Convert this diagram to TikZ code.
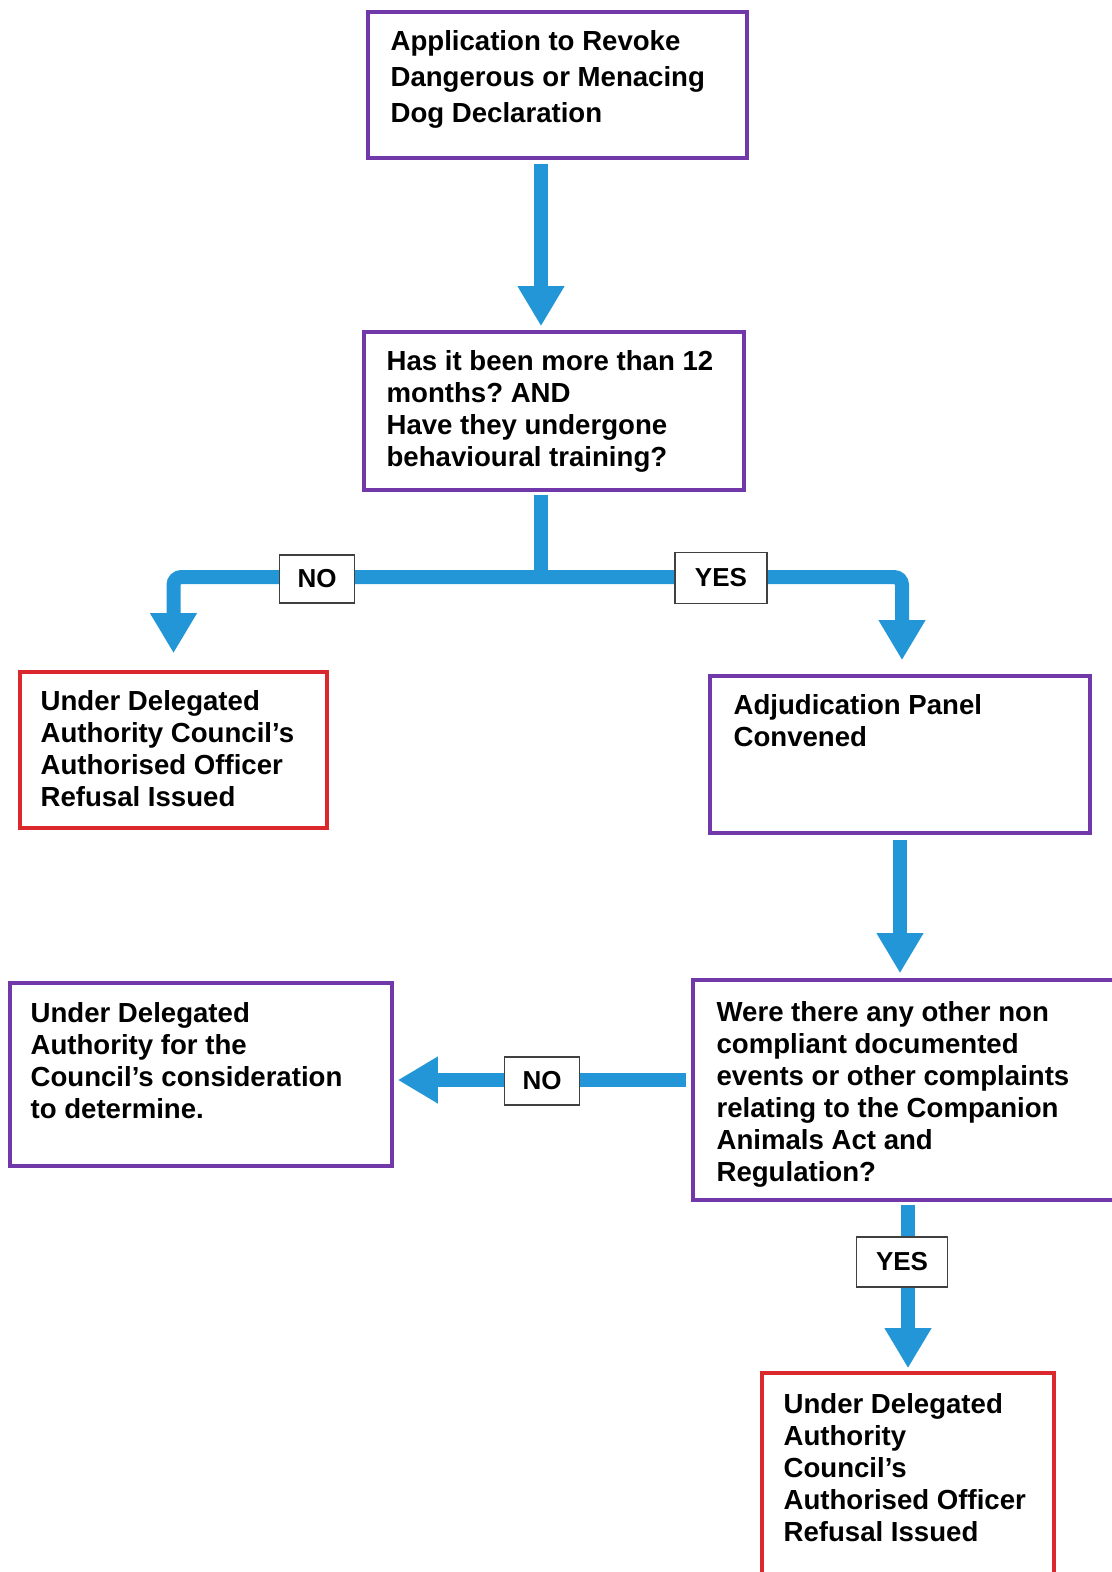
\documentclass[tikz,border=0pt]{standalone}
\usepackage{fontspec}
\setmainfont{Liberation Sans}
\frenchspacing
\usetikzlibrary{arrows.meta,positioning}
\definecolor{boxpurple}{RGB}{112,56,168}
\definecolor{boxred}{RGB}{218,40,45}
\definecolor{flowblue}{RGB}{34,150,214}

\begin{document}
\begin{tikzpicture}[x=0.5pt,y=-0.5pt,
  box/.style={draw=boxpurple,line width=1.8pt,inner sep=0pt},
  redbox/.style={box,draw=boxred},
  txt/.style={anchor=north west,align=left,inner sep=0pt,font=\bfseries\fontsize{13.8}{16}\selectfont},
  tag/.style={draw=black!75,line width=0.6pt,fill=white,inner sep=0pt,font=\bfseries\fontsize{13}{16}\selectfont},
  pipe/.style={draw=flowblue,line width=7pt},
  flow/.style={pipe,-{Triangle[width=22pt,length=20pt]}}]

\useasboundingbox (0,0) rectangle (1112,1572);
\clip (0,0) rectangle (1112,1572);

% boxes
\node[box,minimum width=189.5pt,minimum height=73pt] (b1) at (557.5,85) {};
\node[box,minimum width=190pt,minimum height=79pt] (b2) at (554,411) {};
\node[redbox,minimum width=153.5pt,minimum height=78pt] (b3) at (173.5,750) {};
\node[box,minimum width=190pt,minimum height=78.5pt] (b4) at (900,754.5) {};
\node[box,minimum width=218.5pt,minimum height=110pt] (b5) at (911.5,1090) {};
\node[box,minimum width=191pt,minimum height=91.5pt] (b6) at (201,1074.5) {};
\node[redbox,minimum width=146pt,minimum height=108.5pt] (b7) at (908,1481.5) {};

% texts
\node[txt,font=\bfseries\fontsize{13.8}{18}\selectfont] (t1) at ([shift={(24,20)}]b1.north west)
  {Application to Revoke\\Dangerous or Menacing\\Dog Declaration};
\node[txt] (t2) at ([shift={(24,20)}]b2.north west)
  {Has it been more than 12\\months? AND\\Have they undergone\\behavioural training?};
\node[txt] (t3) at ([shift={(22,20)}]b3.north west)
  {Under Delegated\\Authority Council’s\\Authorised Officer\\Refusal Issued};
\node[txt] (t4) at ([shift={(25,20)}]b4.north west)
  {Adjudication Panel\\Convened};
\node[txt] (t5) at ([shift={(25,23)}]b5.north west)
  {Were there any other non\\compliant documented\\events or other complaints\\relating to the Companion\\Animals Act and\\Regulation?};
\node[txt] (t6) at ([shift={(22,21)}]b6.north west)
  {Under Delegated\\Authority for the\\Council’s consideration\\to determine.};
\node[txt] (t7) at ([shift={(23,22)}]b7.north west)
  {Under Delegated\\Authority\\Council’s\\Authorised Officer\\Refusal Issued};

\coordinate (j) at (541,577);

% connectors
\draw[flow,shorten <=2pt,shorten >=2pt] (b1.south -| j) -- (b2.north -| j);
\draw[pipe,shorten <=1.5pt] (b2.south -| j) -- (j);
\draw[flow,rounded corners=4pt,shorten >=8.5pt] (j) -| (b3.north);
\draw[flow,rounded corners=4pt,shorten >=7pt] (j) -| ([xshift=1pt]b4.north);
\draw[flow,shorten <=2.5pt,shorten >=2.5pt] (b4.south) -- (b5.north -| b4.south);
\draw[flow,shorten <=2.5pt,shorten >=2pt] ([yshift=5pt]b5.west) -- ([yshift=5pt]b5.west -| b6.east);
\draw[flow,shorten <=1.5pt,shorten >=1.5pt] (b5.south -| b7.north) -- (b7.north);

% labels
\node[tag,minimum width=37.5pt,minimum height=24pt] (no1) at (317,579) {NO};
\node[tag,minimum width=46pt,minimum height=25.5pt] (yes1) at (721,578) {YES};
\node[tag,minimum width=37.5pt,minimum height=24pt] (no2) at (542,1081) {NO};
\node[tag,minimum width=45.5pt,minimum height=25pt] (yes2) at (902,1262) {YES};
\end{tikzpicture}
\end{document}
